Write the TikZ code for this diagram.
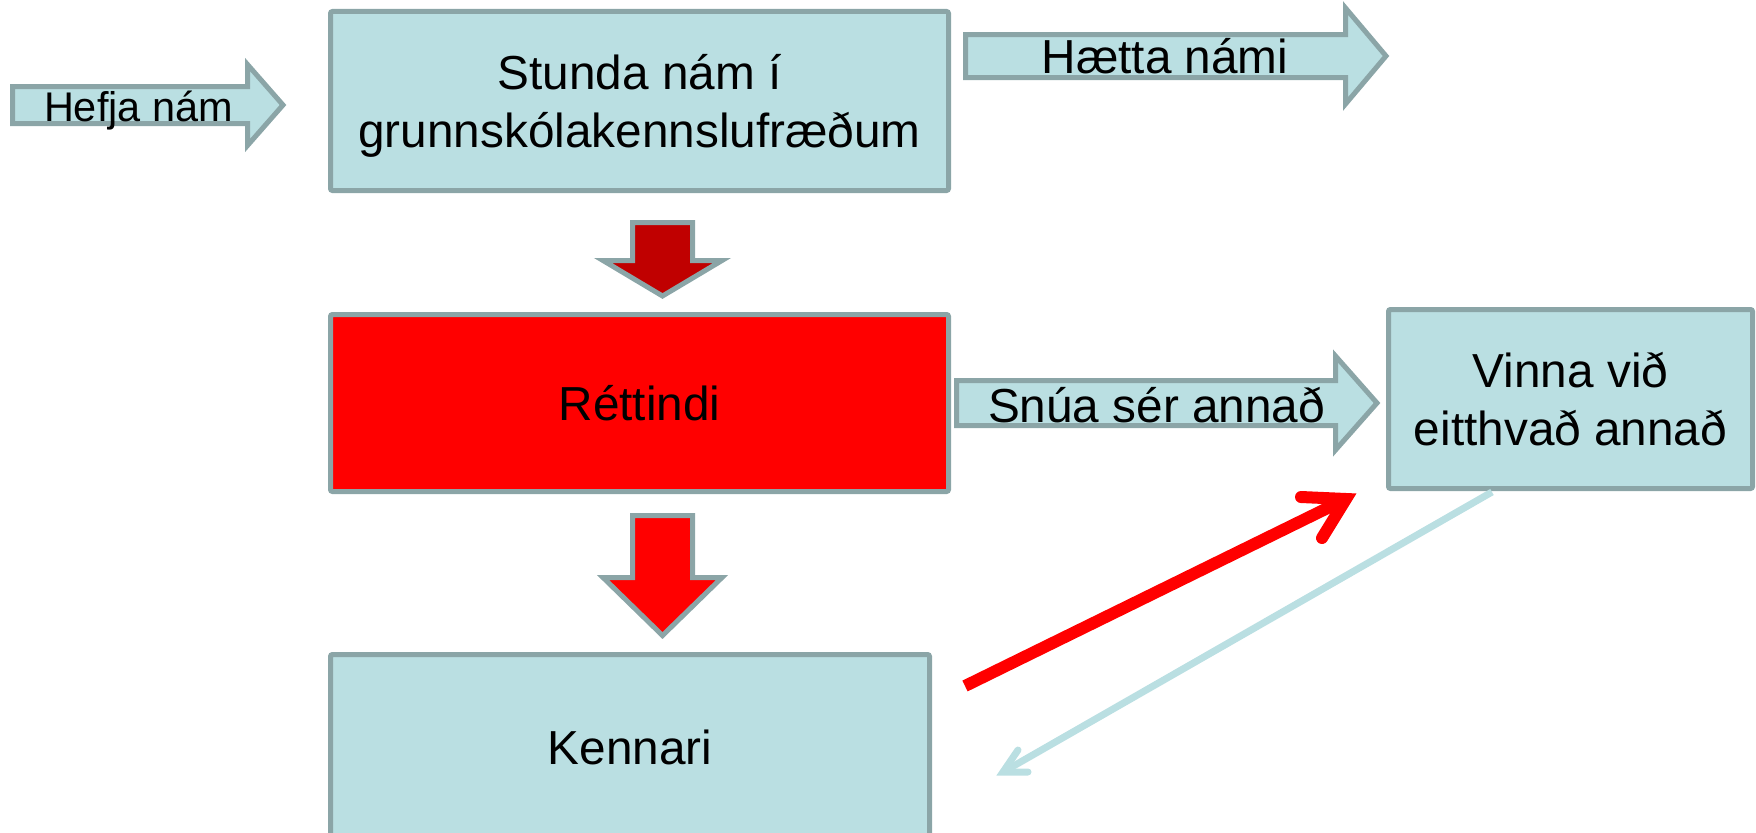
\documentclass[tikz,border=0pt]{standalone}
\usepackage{fontspec}
\setmainfont{Liberation Sans}
\definecolor{boxfill}{HTML}{BADFE2}
\definecolor{boxline}{HTML}{8BA5A7}
\definecolor{darkred}{HTML}{C00000}
\definecolor{brightred}{HTML}{FF0000}
\newcommand\bigtext{\fontsize{47.9}{58.2}\selectfont}
\newcommand\smalltext{\fontsize{41.6}{50}\selectfont}
\begin{document}
\begin{tikzpicture}[x=1bp,y=-1bp,
  box/.style={draw=boxline,line width=5bp,fill=boxfill,rounded corners=2bp,inner sep=0pt,outer sep=0pt,align=center,font=\bigtext,text depth=0pt},
  barrow/.style={draw=boxline,line width=5bp,fill=boxfill,line join=miter},
  atext/.style={font=\bigtext,anchor=base,inner sep=0pt},
  redline/.style={draw=brightred,line width=12bp},
  paleline/.style={draw=boxfill,line width=7bp}]
\useasboundingbox (0,0) rectangle (1756,833);

% boxes
\node[box,minimum width=618bp,minimum height=179bp] (stunda) at (639.5,101) {Stunda nám í\\grunnskólakennslufræðum};
\node[box,fill=brightred,minimum width=618bp,minimum height=177bp] (rett) at (639.5,403) {Réttindi};
\node[box,minimum width=599bp,minimum height=186bp] (kenn) at (630,747.5) {Kennari};
\node[box,minimum width=364bp,minimum height=179bp] (vinna) at (1570.5,399) {Vinna við\\eitthvað annað};

% block arrows
\draw[barrow] (12.5,86.5) -- (247.5,86.5) -- (247.5,64.5) -- (283,105) -- (247.5,145.5) -- (247.5,123.5) -- (12.5,123.5) -- cycle;
\node[atext,font=\smalltext] (hefja) at (138.5,121) {Hefja nám};

\draw[barrow] (965.5,34.5) -- (1345.5,34.5) -- (1345.5,8) -- (1386,56) -- (1345.5,104) -- (1345.5,77.5) -- (965.5,77.5) -- cycle;
\node[atext] (haetta) at (1165,73) {Hætta námi};

\draw[barrow] (956.5,380.5) -- (1335.5,380.5) -- (1335.5,356) -- (1377,403) -- (1335.5,450) -- (1335.5,425.5) -- (956.5,425.5) -- cycle;
\node[atext] (snua) at (1156.5,422) {Snúa sér annað};

\draw[barrow,fill=darkred] (632.5,222.5) -- (692.5,222.5) -- (692.5,260.5) -- (722,260.5) -- (662.5,296) -- (603,260.5) -- (632.5,260.5) -- cycle;
\draw[barrow,fill=brightred] (632.5,515.5) -- (692.5,515.5) -- (692.5,577.5) -- (722,577.5) -- (662.5,635.5) -- (603,577.5) -- (632.5,577.5) -- cycle;

% diagonal arrows
\coordinate (rs) at (965,686);
\coordinate (rt) at (1346,499);
\draw[redline] (rs) -- (rt);
\draw[redline,line cap=round,line join=miter] (1301,497) -- (rt) -- (1322,538);

\coordinate (ps) at (1492,492);
\coordinate (pt) at (1003,772);
\draw[paleline] (ps) -- (pt);
\draw[paleline,line cap=round,line join=miter] (1018,750) -- (pt) -- (1028,772);
\end{tikzpicture}
\end{document}
